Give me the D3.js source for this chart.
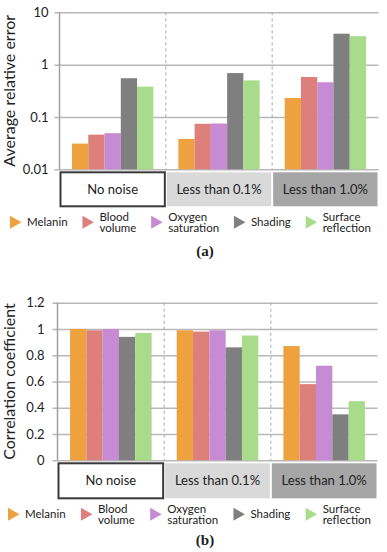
<!DOCTYPE html>
<html lang="en">
<head>
  <meta charset="UTF-8" />
  <title>Relative error and correlation</title>
  <style>
    body { margin: 0; background: #fff; }
    text { font-family: Lato, "Open Sans", sans-serif; fill: #222; }
  </style>
</head>
<body>
  <div id="chart"></div>

  <script src="https://d3js.org/d3.v7.min.js"></script>
  <script>
    // data
    const series = ["Melanin", "Blood volume", "Oxygen saturation", "Shading", "Surface reflection"];
    const legendLines = [["Melanin"], ["Blood", "volume"], ["Oxygen", "saturation"], ["Shading"], ["Surface", "reflection"]];
    const noiseLevels = ["No noise", "Less than 0.1%", "Less than 1.0%"];

    const errorNoNoise = [0.031, 0.046, 0.049, 0.55, 0.38];
    const error01 = [0.038, 0.074, 0.075, 0.69, 0.5];
    const error10 = [0.23, 0.58, 0.46, 3.9, 3.5];
    const errorTicks = [0.01, 0.1, 1, 10];

    const corrNoNoise = [1.0, 0.99, 1.0, 0.94, 0.97];
    const corr01 = [0.99, 0.98, 0.99, 0.86, 0.95];
    const corr10 = [0.87, 0.58, 0.72, 0.35, 0.45];
    const corrTicks = [0, 0.2, 0.4, 0.6, 0.8, 1, 1.2];

    const colors = ["#eea23f", "#dd7f7b", "#c68bd3", "#7f7f7f", "#a8dc8b"];
    const boxFill = ["#ffffff", "#d9d9d9", "#a6a6a6"];

    width = 387
    height = 552

    var svg = d3.select("#chart")
      .append("svg")
      .attr("width", width)
      .attr("height", height)

    var drawPanel = function (opt) {
      var g = svg.append("g")
        .attr("transform", "translate(" + opt.left + "," + opt.top + ")")
      var w = opt.w, h = opt.h

      var y = opt.y.range([h, 0])

      var x0 = d3.scaleBand().domain(noiseLevels).range([0, w])
      var x1 = d3.scaleBand().domain(series).range([0, x0.bandwidth()])
        .paddingInner(0).paddingOuter(0.77)

      // grid + ticks
      var axis = g.append("g")
        .call(d3.axisLeft(y).tickValues(opt.ticks).tickSize(-w).tickFormat(d => String(d)))
      axis.select(".domain").remove()
      axis.selectAll(".tick line")
        .attr("x1", -5)
        .attr("stroke", "#b8b8b8")
        .attr("stroke-width", 1.5)
      axis.selectAll(".tick text")
        .attr("x", -opt.labelGap)
        .style("font-size", "13px")
        .style("font-family", "Lato, sans-serif")
        .attr("fill", "#222")

      g.append("line")
        .attr("x1", 0).attr("x2", 0)
        .attr("y1", 0).attr("y2", h)
        .attr("stroke", "#a0a0a0")
        .attr("stroke-width", 1.5)

      // dashed dividers
      g.selectAll(".divider")
        .data(noiseLevels.slice(1))
        .enter().append("line")
        .attr("x1", d => x0(d)).attr("x2", d => x0(d))
        .attr("y1", 0).attr("y2", h)
        .attr("stroke", "#a8a8a8")
        .attr("stroke-dasharray", "3,3")

      // bars
      var groups = g.selectAll(".grp")
        .data(noiseLevels)
        .enter().append("g")
        .attr("transform", d => "translate(" + x0(d) + ",0)")

      groups.selectAll("rect")
        .data((d, i) => opt.values[i].map((v, j) => ({ name: series[j], v: v, c: colors[j] })))
        .enter().append("rect")
        .attr("x", d => x1(d.name))
        .attr("width", x1.bandwidth())
        .attr("y", d => y(d.v))
        .attr("height", d => h - y(d.v))
        .attr("fill", d => d.c)

      // category boxes under the axis
      var boxes = g.selectAll(".box")
        .data(noiseLevels)
        .enter().append("g")
      boxes.append("rect")
        .attr("x", d => x0(d) + 1)
        .attr("y", h + 3)
        .attr("width", x0.bandwidth() - 2)
        .attr("height", opt.boxH)
        .attr("fill", (d, i) => boxFill[i])
        .attr("stroke", (d, i) => i == 0 ? "#3a3a3a" : "none")
        .attr("stroke-width", 2)
      boxes.append("text")
        .attr("x", d => x0(d) + x0.bandwidth() / 2)
        .attr("y", h + 3 + opt.boxH / 2)
        .attr("dy", "0.35em")
        .attr("text-anchor", "middle")
        .style("font-size", "13px")
        .text(d => d)

      // y title
      g.append("text")
        .attr("transform", "translate(" + (-opt.left + 9) + "," + (h / 2) + ") rotate(-90)")
        .attr("dy", "0.35em")
        .attr("text-anchor", "middle")
        .style("font-size", "16px")
        .text(opt.title)

      // legend, spread over the full width
      var legY = opt.top + h + opt.legendOff
      var leg = svg.append("g")
      var items = leg.selectAll(".item")
        .data(series)
        .enter().append("g")
      items.append("path")
        .attr("d", "M0,-6.5L11.5,0L0,6.5Z")
        .attr("fill", (d, i) => colors[i])
      items.each(function (d, i) {
        var t = d3.select(this).append("text")
          .style("font-size", "11.5px")
        var lines = legendLines[i]
        lines.forEach(function (s, k) {
          t.append("tspan")
            .attr("x", 17)
            .attr("y", (k - (lines.length - 1) / 2) * 11)
            .attr("dy", "0.35em")
            .text(s)
        })
      })
      var widths = []
      items.each(function () { widths.push(this.getBBox().width) })
      var startX = opt.legendX0, endX = 371
      var gap = (endX - startX - d3.sum(widths)) / (series.length - 1)
      var pos = startX
      items.attr("transform", function (d, i) {
        var p = pos
        pos += widths[i] + gap
        return "translate(" + p + "," + legY + ")"
      })

      // panel label
      svg.append("text")
        .attr("x", 205)
        .attr("y", legY + opt.tagOff)
        .attr("text-anchor", "middle")
        .style("font-family", "'Liberation Serif', serif")
        .style("font-weight", "bold")
        .style("font-size", "15px")
        .text(opt.tag)
    }

    drawPanel({
      left: 59.5, top: 12.3, w: 319, h: 157,
      y: d3.scaleLog().domain([0.01, 10]),
      ticks: errorTicks,
      values: [errorNoNoise, error01, error10],
      title: "Average relative error",
      labelGap: 11, boxH: 34, legendOff: 53, tagOff: 34, legendX0: 10, tag: "(a)"
    })

    drawPanel({
      left: 57.5, top: 302.7, w: 320, h: 157.6,
      y: d3.scaleLinear().domain([0, 1.2]),
      ticks: corrTicks,
      values: [corrNoNoise, corr01, corr10],
      title: "Correlation coefficient",
      labelGap: 13, boxH: 35, legendOff: 54, tagOff: 31, legendX0: 8, tag: "(b)"
    })
  </script>
</body>
</html>
